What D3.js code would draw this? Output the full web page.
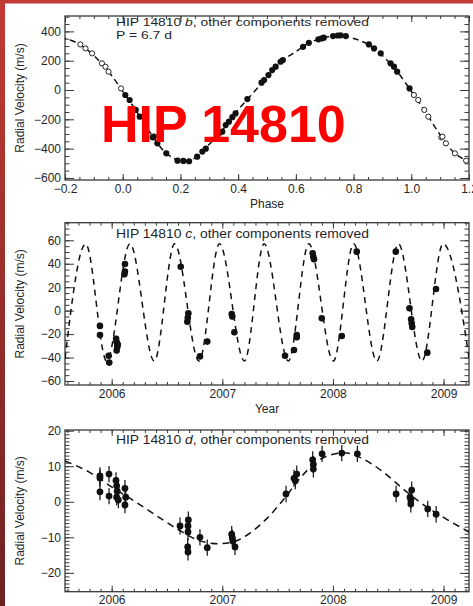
<!DOCTYPE html>
<html><head><meta charset="utf-8">
<script src="https://cdn.jsdelivr.net/npm/d3@7"></script>
<style>
body{margin:0;background:#fff;}
svg{display:block;}
text{font-family:"Liberation Sans",Arial,Helvetica,sans-serif;}
</style>
</head><body>
<svg id="c" width="473" height="606"></svg>
<script>
// ---------------- DATA ----------------
// Panel b (phase-folded, P = 6.7 d)
const bPhase = [0.009,0.024,0.045,0.059,0.104,0.108,0.120,0.151,0.190,0.210,0.230,0.258,0.276,0.288,0.334,0.345,0.357,0.368,0.380,0.391,0.432,0.481,0.490,0.505,0.518,0.530,0.547,0.555,0.625,0.645,0.678,0.690,0.697,0.729,0.745,0.755,0.773,0.853,0.871,0.894,0.928,0.940,0.951,0.994];
const bRV = [-34,-68,-136,-182,-323,-318,-364,-432,-482,-484,-486,-455,-420,-400,-295,-284,-239,-216,-185,-160,-62,50,68,102,136,159,193,204,295,322,346,352,357,368,372,373,368,311,284,250,182,159,125,11];
const bCurvePhase = [0,0.05,0.10,0.15,0.20,0.25,0.30,0.35,0.40,0.45,0.50,0.55,0.60,0.65,0.70,0.75,0.80,0.85,0.90,0.95,1.0];
const bCurveRV = [-8,-152,-305,-430,-482,-465,-370,-262,-135,-25,90,195,262,325,358,372,352,312,235,128,-8];
const bXTicks = [-0.2,0.0,0.2,0.4,0.6,0.8,1.0,1.2];
const bYTicks = [-600,-400,-200,0,200,400];

// Panel c (time series)
const cYear = [2005.894,2005.894,2005.973,2005.978,2006.040,2006.045,2006.050,2006.045,2006.055,2006.120,2006.120,2006.115,2006.624,2006.693,2006.688,2006.684,2006.798,2006.864,2007.085,2007.090,2007.109,2007.567,2007.648,2007.673,2007.673,2007.817,2007.822,2007.829,2007.899,2008.080,2008.215,2008.568,2008.692,2008.707,2008.712,2008.717,2008.853,2008.932];
const cRV = [-13,-20.7,-38.4,-44.3,-24,-27,-31,-34,-29,39.8,33.3,31,37.5,-2.2,-6,-9.4,-39,-26.4,-2.8,-5,-18.4,-38.4,-33.5,-22.7,-20.8,49,46,43.8,-6.5,-21.6,50.3,50.3,2,-7.3,-10.8,-14,-35.8,18.5];
const cErr = [2.5,2.5,2.5,2.5,2.5,2.5,2.5,2.5,2.5,2.5,2.5,2.5,2.5,2.5,2.5,2.5,2.5,2.5,2.5,2.5,2.5,2.5,2.5,2.5,2.5,2.5,2.5,2.5,2.5,2.5,2.5,2.5,2.5,2.5,2.5,2.5,2.5,2.5];
const cCurveYear = [2005.578,2005.765,2005.955,2006.165,2006.385,2006.569,2006.790,2006.974,2007.200,2007.378,2007.597,2007.782,2008.004,2008.187,2008.397,2008.592,2008.805,2008.996,2009.230];
const cCurveRV = [-41,57,-43,57,-43,57,-43,57,-43,57,-43,57,-43,57,-43,57,-43,57,-40];
const cYTicks = [-60,-40,-20,0,20,40,60];

// Panel d (time series)
const dYear = [2005.894,2005.894,2005.894,2005.976,2005.976,2006.039,2006.045,2006.050,2006.045,2006.060,2006.120,2006.127,2006.120,2006.618,2006.693,2006.690,2006.690,2006.687,2006.690,2006.798,2006.864,2007.085,2007.090,2007.095,2007.115,2007.576,2007.648,2007.673,2007.660,2007.817,2007.823,2007.823,2007.902,2008.080,2008.221,2008.571,2008.712,2008.697,2008.704,2008.704,2008.857,2008.933];
const dRV = [7.3,6.7,2.8,7.8,1.6,6,4.5,3,1.3,0.5,3.8,1.3,-0.9,-6.8,-5.1,-6.8,-8.5,-12.7,-14.1,-10,-12.9,-9.1,-10.1,-11,-12.7,2.2,6.6,7.8,5.9,11.8,10.5,9.2,13.5,13.7,13.5,2.2,3.3,1.3,0.5,-0.6,-2,-3.5];
const dErr = [2.4,2.4,2.4,2.3,2.3,2.3,2.3,2.3,2.3,2.3,2.3,2.3,2.3,2.4,2.4,2.4,2.4,2.4,2.4,2.3,2.3,2.3,2.3,2.3,2.3,2.3,2.4,2.4,2.4,2.4,2.4,2.4,2.3,2.3,2.3,2.3,2.4,2.4,2.4,2.4,2.3,2.3];
const dCurveYear = [2005.578,2005.8,2006.0,2006.2,2006.4,2006.6,2006.8,2006.97,2007.1,2007.25,2007.4,2007.55,2007.7,2007.85,2008.0,2008.1,2008.25,2008.45,2008.65,2008.85,2009.0,2009.23];
const dCurveRV = [11.5,8.3,4.2,0.3,-3.8,-7.8,-11,-11.8,-11.3,-8.8,-4.8,0.5,6.5,11.2,13.4,13.8,12.4,8.5,3.2,-1.5,-4.4,-8.5];
const dYTicks = [-20,-10,0,10,20];

const yearTicks = [2006,2007,2008,2009];
const yTitle = "Radial Velocity  (m/s)";

// ---------------- DRAWING ----------------
const svg = d3.select("#c");
const INK = "#1f1f2a";
const AX = "#3a3a3a";

// slide frame
const defs = svg.append("defs");
const grad = defs.append("linearGradient").attr("id","lbar").attr("x1",0).attr("y1",0).attr("x2",0).attr("y2",1);
grad.append("stop").attr("offset","0%").attr("stop-color","#c23a33");
grad.append("stop").attr("offset","100%").attr("stop-color","#6e2222");
svg.append("rect").attr("x",0).attr("y",0).attr("width",473).attr("height",606).attr("fill","#fff");
svg.append("rect").attr("x",0).attr("y",0).attr("width",473).attr("height",3.5).attr("fill","#c23a33");
svg.append("rect").attr("x",0).attr("y",0).attr("width",5).attr("height",606).attr("fill","url(#lbar)");

let clipId = 0;
function panel(o){
  const g = svg.append("g");
  const x = d3.scaleLinear().domain(o.xd).range([o.L, o.R]);
  const y = d3.scaleLinear().domain(o.yd).range([o.B, o.T]);
  const W = o.R - o.L, H = o.B - o.T;

  function axis(fn, scale, ticks, len, fmt, tr){
    const a = fn(scale).tickValues(ticks).tickSize(-len).tickPadding(o.pad || 4);
    a.tickFormat(fmt ? fmt : () => "");
    const ag = g.append("g").attr("transform", tr).call(a);
    ag.select(".domain").remove();
    ag.selectAll(".tick line").attr("stroke", AX).attr("stroke-width", 1);
    ag.selectAll("text").attr("fill", INK).attr("font-size", 12)
      .attr("font-family", '"Liberation Sans",Arial,sans-serif');
    ag.attr("font-family", null).attr("font-size", null);
    return ag;
  }
  // x axes
  axis(d3.axisBottom, x, o.xMajor, 6, o.xFmt, `translate(0,${o.B})`);
  axis(d3.axisBottom, x, o.xMinor, 3, null, `translate(0,${o.B})`);
  axis(d3.axisTop, x, o.xMajor, 6, null, `translate(0,${o.T})`);
  axis(d3.axisTop, x, o.xMinor, 3, null, `translate(0,${o.T})`);
  // y axes
  axis(d3.axisLeft, y, o.yMajor, 9, o.yFmt, `translate(${o.L},0)`);
  axis(d3.axisLeft, y, o.yMinor, 4.5, null, `translate(${o.L},0)`);
  axis(d3.axisRight, y, o.yMajor, 9, null, `translate(${o.R},0)`);
  axis(d3.axisRight, y, o.yMinor, 4.5, null, `translate(${o.R},0)`);

  g.append("rect").attr("x", o.L).attr("y", o.T).attr("width", W).attr("height", H)
    .attr("fill", "none").attr("stroke", AX).attr("stroke-width", 1.3);

  const id = "clip" + (clipId++);
  defs.append("clipPath").attr("id", id).append("rect")
    .attr("x", o.L).attr("y", o.T).attr("width", W).attr("height", H);
  const pg = g.append("g").attr("clip-path", `url(#${id})`);

  // model curves
  o.curves.forEach(cv => {
    const line = d3.line().x(d => x(d[0])).y(d => y(d[1])).curve(o.curveType);
    pg.append("path").datum(cv).attr("d", line).attr("fill", "none")
      .attr("stroke", "#111").attr("stroke-width", 1.5).attr("stroke-dasharray", o.dash);
  });

  // error bars
  if (o.err){
    pg.selectAll(".eb").data(o.pts).enter().append("line")
      .attr("x1", d => x(d[0])).attr("x2", d => x(d[0]))
      .attr("y1", d => y(d[1] - d[2])).attr("y2", d => y(d[1] + d[2]))
      .attr("stroke", "#111").attr("stroke-width", 1.2);
  }
  // open points
  if (o.open){
    pg.selectAll(".op").data(o.open).enter().append("circle")
      .attr("cx", d => x(d[0])).attr("cy", d => y(d[1])).attr("r", 2.6)
      .attr("fill", "#fff").attr("stroke", "#222").attr("stroke-width", 1);
  }
  pg.selectAll(".pt").data(o.pts).enter().append("circle")
    .attr("cx", d => x(d[0])).attr("cy", d => y(d[1])).attr("r", o.r)
    .attr("fill", "#111");

  // titles
  const fs = o.sub ? 11.4 : 12.2;
  const t = g.append("text").attr("x", 116).attr("y", o.T + o.titleDy).attr("font-size", fs)
    .attr("fill", INK).attr("textLength", 253).attr("lengthAdjust", "spacingAndGlyphs");
  t.append("tspan").text("HIP 14810 ");
  t.append("tspan").attr("font-style", "italic").text(o.letter);
  t.append("tspan").text(", other components removed");
  if (o.sub){
    g.append("text").attr("x", 116).attr("y", o.T + o.titleDy + 13).attr("font-size", fs)
      .attr("fill", INK).attr("textLength", 56).attr("lengthAdjust", "spacingAndGlyphs").text(o.sub);
  }
  // y title
  g.append("text").attr("transform", `translate(24,${(o.T + o.B)/2}) rotate(-90)`)
    .attr("text-anchor", "middle").attr("font-size", 12).attr("fill", INK).text(yTitle);
  if (o.xTitle){
    g.append("text").attr("x", (o.L + o.R)/2).attr("y", o.B + 28).attr("text-anchor", "middle")
      .attr("font-size", 12).attr("fill", INK).text(o.xTitle);
  }
  return {x, y};
}

// panel b
const bPts = bPhase.map((p, i) => [p, bRV[i]]);
const bOpen = bPts.filter(d => d[0] > 0.8).map(d => [d[0] - 1, d[1]])
  .concat(bPts.filter(d => d[0] < 0.2).map(d => [d[0] + 1, d[1]]));
const bCurve = bCurvePhase.map((p, i) => [p, bCurveRV[i]]);
const bCurveFull = bCurve.filter(d => d[0] >= 0.75 && d[0] < 1).map(d => [d[0] - 1, d[1]])
  .concat(bCurve)
  .concat(bCurve.filter(d => d[0] > 0 && d[0] <= 0.25).map(d => [d[0] + 1, d[1]]));
const minorB = [], minorBy = [];
for (let v = -0.2; v <= 1.2001; v += 0.05) minorB.push(+v.toFixed(2));
for (let v = -600; v <= 500; v += 50) minorBy.push(v);

panel({
  L: 65, R: 469, T: 16, B: 180,
  xd: [-0.2, 1.2], yd: [-614, 505],
  xMajor: bXTicks, xMinor: minorB, yMajor: bYTicks, yMinor: minorBy,
  xFmt: d3.format(".1f"), yFmt: d3.format("d"),
  curves: [bCurveFull], curveType: d3.curveCatmullRom.alpha(0.5), dash: "6,4",
  pts: bPts, open: bOpen, r: 3.1, letter: "b", sub: "P = 6.7 d", xTitle: "Phase", titleDy: 10.3
});

// panel c
const minorYear = [];
for (let v = 2005.6; v <= 2009.23; v += 0.1) minorYear.push(+v.toFixed(1));
const minorC = []; for (let v = -60; v <= 75; v += 5) minorC.push(v);
panel({
  L: 65, R: 469, T: 222.7, B: 385,
  xd: [2005.578, 2009.23], yd: [-63.4, 75],
  xMajor: yearTicks, xMinor: minorYear, yMajor: cYTicks, yMinor: minorC,
  xFmt: d3.format("d"), yFmt: d3.format("d"),
  curves: [cCurveYear.map((v, i) => [v, cCurveRV[i]])], curveType: d3.curveMonotoneX, dash: "6,5",
  pts: cYear.map((v, i) => [v, cRV[i], cErr[i]]), err: true, r: 3.3, letter: "c", xTitle: "Year", titleDy: 15.5
});

// panel d
const minorD = []; for (let v = -25; v <= 20; v += 1) minorD.push(v);
panel({
  L: 65, R: 469, T: 430, B: 591.7,
  xd: [2005.578, 2009.23], yd: [-25.3, 20.2],
  xMajor: yearTicks, xMinor: minorYear, yMajor: dYTicks, yMinor: minorD,
  xFmt: d3.format("d"), yFmt: d3.format("d"),
  curves: [dCurveYear.map((v, i) => [v, dCurveRV[i]])], curveType: d3.curveMonotoneX, dash: "7,5",
  pts: dYear.map((v, i) => [v, dRV[i], dErr[i]]), err: true, r: 3.4, letter: "d", titleDy: 14
});

// overlay label
svg.append("text").attr("x", 101).attr("y", 141.5).attr("font-size", 52).attr("font-weight", "bold")
  .attr("fill", "#ff0000").text("HIP 14810");
</script>
</body></html>
